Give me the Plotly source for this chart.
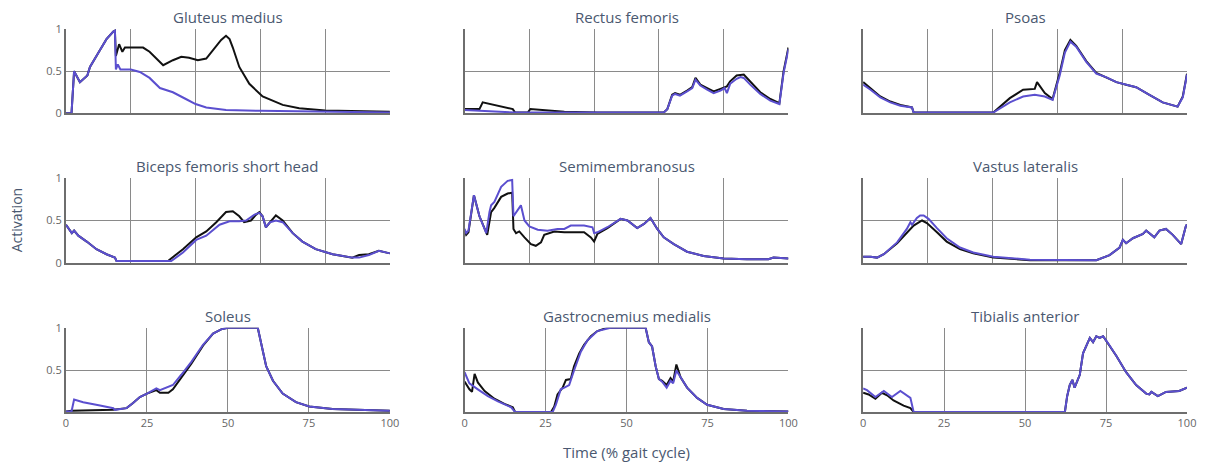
import plotly.graph_objects as go
from plotly.subplots import make_subplots

# Muscle activation over one gait cycle: reference (black) vs. predicted (purple)
muscles = [
    "Gluteus medius", "Rectus femoris", "Psoas",
    "Biceps femoris short head", "Semimembranosus", "Vastus lateralis",
    "Soleus", "Gastrocnemius medialis", "Tibialis anterior",
]

# --- Gluteus medius ---
glmed_ref_t = [0, 1.7, 2.5, 3.2, 4.3, 6.6, 7.4, 10.5, 12.5, 14.6, 15.1, 15.4, 16.4, 17.4, 18.2, 20, 23.8, 25.8,
               29, 30, 33, 35.6, 38, 40.7, 43.3, 45.3, 47.9, 49.4, 50.5, 51.5, 53.5, 56.6, 60.7, 66.9, 72, 80, 100]
glmed_ref = [0, 0, 0.5, 0.45, 0.37, 0.45, 0.55, 0.75, 0.88, 0.97, 0.98, 0.68, 0.82, 0.73, 0.78, 0.78, 0.78, 0.73,
             0.6, 0.57, 0.63, 0.67, 0.66, 0.63, 0.65, 0.75, 0.87, 0.92, 0.88, 0.78, 0.55, 0.35, 0.2, 0.1, 0.06, 0.035, 0.02]
glmed_pred_t = [0, 1.7, 2.5, 3.2, 4.3, 6.6, 7.4, 10.5, 12.5, 14.6, 15.1, 15.4, 16.0, 16.8, 20, 22.8, 25.8, 29,
                33, 37, 40, 43.3, 49.4, 60, 100]
glmed_pred = [0, 0, 0.5, 0.45, 0.37, 0.45, 0.55, 0.75, 0.88, 0.97, 0.98, 0.52, 0.58, 0.52, 0.52, 0.49, 0.42, 0.3,
              0.25, 0.17, 0.11, 0.07, 0.04, 0.03, 0.01]

# --- Rectus femoris ---
recfem_ref_t = [0, 4.6, 5.6, 14.9, 15.6, 19.5, 20.3, 30.8, 41, 61.5, 62.6, 64.1, 65, 66.5, 68.7, 70.3, 71.3, 72.8,
                74.9, 76.9, 79, 81, 82, 84, 86.2, 88.2, 91.3, 94.4, 97.2, 98.5, 100]
recfem_ref = [0.05, 0.05, 0.13, 0.05, 0.01, 0.01, 0.05, 0.02, 0.01, 0.01, 0.05, 0.22, 0.24, 0.22, 0.27, 0.31, 0.42, 0.34,
              0.3, 0.26, 0.29, 0.32, 0.38, 0.45, 0.46, 0.38, 0.25, 0.17, 0.12, 0.5, 0.78]
recfem_pred_t = [0, 4.6, 15.6, 30.8, 61.5, 62.6, 64.1, 65, 66.5, 68.7, 70.3, 71.3, 72.8, 74.9, 76.9, 79, 80.3, 81,
                 82, 84, 85.2, 86.2, 88.2, 91.3, 94.4, 97.2, 98.5, 100]
recfem_pred = [0.04, 0.03, 0.01, 0.01, 0.01, 0.05, 0.21, 0.23, 0.21, 0.26, 0.3, 0.4, 0.33, 0.28, 0.24, 0.27, 0.3, 0.24,
               0.35, 0.41, 0.43, 0.42, 0.34, 0.23, 0.15, 0.11, 0.48, 0.76]

# --- Psoas ---
psoas_ref_t = [0, 2.3, 5.3, 8.4, 11.5, 15.1, 15.6, 40.2, 45.3, 49.4, 53, 53.7, 56.1, 58.5, 60.7, 62.3, 64, 65.8,
               68.9, 72, 75, 78.2, 81.2, 84.3, 88.4, 92.5, 97.1, 98.7, 100]
psoas_ref = [0.37, 0.3, 0.2, 0.14, 0.1, 0.07, 0.01, 0.01, 0.18, 0.28, 0.29, 0.37, 0.24, 0.17, 0.48, 0.75, 0.87, 0.8,
             0.62, 0.48, 0.43, 0.37, 0.34, 0.31, 0.22, 0.13, 0.08, 0.2, 0.47]
psoas_pred_t = [0, 2.3, 5.3, 8.4, 11.5, 15.1, 15.6, 40.2, 45.3, 49.4, 53, 56.1, 58.5, 60.7, 62.3, 64, 65.8,
                68.9, 72, 75, 78.2, 81.2, 84.3, 88.4, 92.5, 97.1, 98.7, 100]
psoas_pred = [0.34, 0.28, 0.19, 0.13, 0.09, 0.07, 0.01, 0.01, 0.13, 0.2, 0.22, 0.2, 0.16, 0.45, 0.72, 0.85, 0.79,
              0.61, 0.47, 0.43, 0.37, 0.34, 0.31, 0.22, 0.13, 0.08, 0.19, 0.46]

# --- Biceps femoris short head ---
bfsh_ref_t = [0, 1.2, 1.8, 2.5, 3.8, 6.4, 9.4, 12.5, 15.1, 15.6, 31.5, 36.1, 40.2, 43.3, 46.4, 49.4, 51.5, 53.5,
              55, 57.1, 58.7, 59.7, 60.7, 61.7, 63, 64.8, 66.9, 70, 73, 77.1, 82.3, 88.4, 90.5, 93.5, 96.6, 100]
bfsh_ref = [0.45, 0.38, 0.35, 0.38, 0.32, 0.25, 0.16, 0.1, 0.06, 0.02, 0.02, 0.16, 0.3, 0.37, 0.48, 0.6, 0.61, 0.55,
            0.48, 0.5, 0.57, 0.6, 0.55, 0.42, 0.48, 0.56, 0.5, 0.35, 0.25, 0.16, 0.1, 0.06, 0.09, 0.1, 0.14, 0.11]
bfsh_pred_t = [0, 1.2, 1.8, 2.5, 3.8, 6.4, 9.4, 12.5, 15.1, 15.6, 32.5, 36.1, 40.2, 43.3, 47.4, 50.5, 53.5,
               55.6, 58.2, 59.7, 60.7, 61.7, 63, 64.8, 66.9, 70, 73, 77.1, 82.3, 88.4, 90.5, 93.5, 96.6, 100]
bfsh_pred = [0.45, 0.38, 0.35, 0.38, 0.32, 0.25, 0.16, 0.1, 0.06, 0.02, 0.02, 0.12, 0.27, 0.32, 0.45, 0.49, 0.49,
             0.5, 0.57, 0.59, 0.55, 0.42, 0.48, 0.5, 0.48, 0.35, 0.25, 0.16, 0.1, 0.06, 0.06, 0.09, 0.14, 0.11]

# --- Semimembranosus ---
semim_ref_t = [0, 0.5, 1.2, 2.9, 4.6, 7, 8.2, 9.2, 11.3, 13.3, 14.7, 15.1, 15.9, 16.9, 18.5, 20.5, 22, 23.6, 24.6,
               27.7, 30.8, 36.9, 39, 40, 41, 44.1, 48.2, 50.3, 53.3, 55.4, 57.4, 59.5, 61.5, 64.6, 68.7, 73.8, 80,
               87.2, 93.8, 95.4, 100]
semim_ref = [0.38, 0.33, 0.36, 0.8, 0.55, 0.33, 0.6, 0.65, 0.78, 0.82, 0.83, 0.4, 0.35, 0.37, 0.3, 0.22, 0.2, 0.24,
             0.33, 0.37, 0.36, 0.36, 0.3, 0.25, 0.34, 0.41, 0.52, 0.5, 0.41, 0.46, 0.53, 0.4, 0.3, 0.22, 0.13, 0.08,
             0.05, 0.04, 0.04, 0.06, 0.05]
semim_pred_t = [0, 0.5, 1.2, 2.9, 4.6, 6.7, 7.7, 8.2, 9.2, 11.3, 13.3, 14.7, 15.1, 15.9, 17.4, 18.5, 20, 22.6, 25.6,
                28.7, 30.8, 32.8, 36.9, 39.5, 40, 41, 44.1, 48.2, 50.3, 53.3, 55.4, 57.4, 59.5, 61.5, 64.6, 68.7,
                73.8, 80, 87.2, 93.8, 95.4, 100]
semim_pred = [0.4, 0.35, 0.38, 0.8, 0.55, 0.35, 0.6, 0.68, 0.72, 0.9, 0.97, 0.98, 0.55, 0.6, 0.68, 0.5, 0.43, 0.39,
              0.38, 0.4, 0.4, 0.44, 0.44, 0.42, 0.35, 0.36, 0.42, 0.52, 0.5, 0.41, 0.46, 0.53, 0.4, 0.3, 0.22, 0.13,
              0.08, 0.05, 0.04, 0.04, 0.06, 0.05]

# --- Vastus lateralis ---
vaslat_ref_t = [0, 2.3, 4.3, 6.4, 10.5, 13.5, 15.6, 18.2, 19.7, 22.8, 25.8, 29.9, 34, 40.2, 51.5, 72, 76.1, 79.2,
                80.2, 81.2, 83.3, 86.4, 87.4, 88.4, 89.9, 91.5, 93.5, 95.6, 98.2, 99.7, 100]
vaslat_ref = [0.07, 0.07, 0.06, 0.1, 0.23, 0.35, 0.44, 0.5, 0.47, 0.36, 0.25, 0.16, 0.11, 0.06, 0.03, 0.03, 0.09,
              0.18, 0.27, 0.23, 0.29, 0.34, 0.38, 0.35, 0.3, 0.38, 0.4, 0.33, 0.22, 0.44, 0.45]
vaslat_pred_t = [0, 2.3, 4.3, 6.4, 10.5, 13.5, 14.6, 15.1, 16.6, 17.6, 18.7, 20.2, 22.8, 25.8, 29.9, 34, 40.2, 51.5,
                 72, 76.1, 79.2, 80.2, 81.2, 83.3, 86.4, 87.4, 88.4, 89.9, 91.5, 93.5, 95.6, 98.2, 99.7, 100]
vaslat_pred = [0.07, 0.07, 0.06, 0.1, 0.24, 0.4, 0.48, 0.45, 0.53, 0.56, 0.56, 0.52, 0.41, 0.29, 0.18, 0.12, 0.07,
               0.035, 0.03, 0.09, 0.18, 0.27, 0.23, 0.29, 0.34, 0.38, 0.35, 0.3, 0.38, 0.4, 0.33, 0.22, 0.44, 0.45]

# --- Soleus ---
soleus_ref_t = [0, 1.7, 14.6, 18.7, 20.7, 22.8, 25, 27.9, 29, 31.6, 33, 35.6, 38.7, 42.3, 45.4, 47.9, 50, 59.2,
                60.3, 61.8, 63.9, 66.9, 71, 75.1, 82.3, 92.6, 100]
soleus_ref = [0.02, 0.03, 0.04, 0.06, 0.12, 0.19, 0.23, 0.27, 0.24, 0.24, 0.28, 0.42, 0.58, 0.79, 0.93, 0.98, 1.0,
              1.0, 0.8, 0.55, 0.38, 0.23, 0.13, 0.08, 0.05, 0.035, 0.03]
soleus_pred_t = [0, 1.7, 2.5, 5.3, 10.5, 14.6, 15.1, 18.7, 20.7, 22.8, 25, 27.9, 29, 31, 33, 35.6, 38.7, 42.3, 45.4,
                 47.9, 50, 59.2, 60.3, 61.8, 63.9, 66.9, 71, 75.1, 82.3, 92.6, 100]
soleus_pred = [0.02, 0.02, 0.16, 0.13, 0.09, 0.06, 0.04, 0.06, 0.12, 0.19, 0.23, 0.29, 0.27, 0.3, 0.33, 0.45, 0.6,
               0.8, 0.93, 0.98, 1.0, 1.0, 0.8, 0.55, 0.38, 0.23, 0.13, 0.08, 0.05, 0.035, 0.03]

# --- Gastrocnemius medialis ---
gasmed_ref_t = [0, 1.5, 2.3, 3.1, 4.1, 6.2, 9.2, 12.3, 14.9, 15.6, 26.7, 27.7, 28.7, 30.3, 31.3, 32.8, 33.8, 35.4,
                36.9, 39, 41, 44.1, 55.9, 56.9, 57.9, 59, 60, 61, 62.4, 63.6, 64.4, 65.4, 66.7, 68.7, 71.8, 74.9, 80,
                87.2, 100]
gasmed_ref = [0.37, 0.28, 0.25, 0.46, 0.36, 0.26, 0.17, 0.11, 0.07, 0.015, 0.015, 0.08, 0.22, 0.3, 0.39, 0.4, 0.55,
              0.7, 0.8, 0.9, 0.96, 1.0, 1.0, 0.83, 0.78, 0.55, 0.4, 0.38, 0.33, 0.41, 0.37, 0.57, 0.42, 0.3, 0.18,
              0.1, 0.05, 0.03, 0.02]
gasmed_pred_t = [0, 1.5, 4.1, 7.2, 10.3, 14.4, 15.6, 27.2, 28.2, 29.7, 30.8, 32.3, 33.8, 35.9, 37.9, 41, 45.1, 55.9,
                 56.9, 57.9, 59, 60, 61, 62.4, 63.6, 64.4, 65.4, 66.7, 68.7, 71.8, 74.9, 80, 87.2, 100]
gasmed_pred = [0.48, 0.35, 0.28, 0.2, 0.14, 0.07, 0.015, 0.015, 0.1, 0.28, 0.3, 0.33, 0.5, 0.72, 0.85, 0.96, 1.0,
               1.0, 0.83, 0.78, 0.55, 0.4, 0.37, 0.3, 0.38, 0.35, 0.5, 0.42, 0.3, 0.18, 0.1, 0.05, 0.03, 0.02]

# --- Tibialis anterior ---
tibant_ref_t = [0, 1.7, 3.8, 5.8, 7.4, 9.4, 12.5, 14.6, 15.6, 62.3, 63, 63.8, 64.6, 65.3, 66.9, 67.9, 70, 71, 72,
                73, 74.1, 75.6, 78.2, 81.2, 84.3, 87.4, 88.4, 89, 91, 93.5, 97.6, 100]
tibant_ref = [0.24, 0.22, 0.17, 0.24, 0.21, 0.15, 0.09, 0.06, 0.015, 0.015, 0.2, 0.33, 0.39, 0.3, 0.45, 0.7, 0.88,
              0.83, 0.9, 0.88, 0.9, 0.82, 0.67, 0.48, 0.33, 0.23, 0.22, 0.25, 0.2, 0.25, 0.26, 0.3]
tibant_pred_t = [0, 1.2, 3.8, 6.4, 8.9, 11.5, 14.6, 15.6, 62.3, 63, 63.8, 64.6, 65.3, 66.9, 67.9, 70, 71, 72,
                 73, 74.1, 75.6, 78.2, 81.2, 84.3, 87.4, 88.4, 89, 91, 93.5, 97.6, 100]
tibant_pred = [0.29, 0.27, 0.19, 0.26, 0.19, 0.26, 0.18, 0.015, 0.015, 0.2, 0.33, 0.39, 0.3, 0.45, 0.7, 0.88,
               0.83, 0.9, 0.88, 0.9, 0.82, 0.67, 0.48, 0.33, 0.23, 0.22, 0.25, 0.2, 0.25, 0.26, 0.3]

series = [
    (glmed_ref_t, glmed_ref, glmed_pred_t, glmed_pred),
    (recfem_ref_t, recfem_ref, recfem_pred_t, recfem_pred),
    (psoas_ref_t, psoas_ref, psoas_pred_t, psoas_pred),
    (bfsh_ref_t, bfsh_ref, bfsh_pred_t, bfsh_pred),
    (semim_ref_t, semim_ref, semim_pred_t, semim_pred),
    (vaslat_ref_t, vaslat_ref, vaslat_pred_t, vaslat_pred),
    (soleus_ref_t, soleus_ref, soleus_pred_t, soleus_pred),
    (gasmed_ref_t, gasmed_ref, gasmed_pred_t, gasmed_pred),
    (tibant_ref_t, tibant_ref, tibant_pred_t, tibant_pred),
]

REF_COLOR = "#111111"
PRED_COLOR = "#5b4fcf"
TEXT_COLOR = "#4a5870"
TICK_COLOR = "#666666"
FONT = "Open Sans, Noto Sans, sans-serif"

fig = make_subplots(
    rows=3, cols=3,
    subplot_titles=muscles,
    horizontal_spacing=0.0666,
    vertical_spacing=0.1697,
)

for i, (rt, rv, pt, pv) in enumerate(series):
    r, c = i // 3 + 1, i % 3 + 1
    fig.add_trace(go.Scatter(x=rt, y=rv, mode="lines", line=dict(color=REF_COLOR, width=2),
                             showlegend=False, hoverinfo="skip"), row=r, col=c)
    fig.add_trace(go.Scatter(x=pt, y=pv, mode="lines", line=dict(color=PRED_COLOR, width=2),
                             showlegend=False, hoverinfo="skip"), row=r, col=c)

    bottom = r == 3
    fig.update_xaxes(
        range=[0, 100], tick0=0, dtick=25 if bottom else 20,
        showticklabels=bottom, ticks="", showgrid=True, gridcolor="#8a8a8a", gridwidth=1,
        showline=True, linecolor="#6e6e6e", linewidth=2, zeroline=False,
        tickfont=dict(size=11, color=TICK_COLOR, family=FONT),
        row=r, col=c,
    )
    fig.update_yaxes(
        range=[0.015, 1] if bottom else [0, 1], tick0=0, dtick=0.5,
        showticklabels=(c == 1), ticks="", showgrid=True, gridcolor="#8a8a8a", gridwidth=1,
        showline=True, linecolor="#6e6e6e", linewidth=2, zeroline=False,
        tickfont=dict(size=11, color=TICK_COLOR, family=FONT),
        row=r, col=c,
    )

for ann in fig.layout.annotations:
    ann.font = dict(size=15, color=TEXT_COLOR, family=FONT)

fig.add_annotation(text="Time (% gait cycle)", xref="paper", yref="paper", x=0.5, y=-0.1044,
                   xanchor="center", yanchor="middle", showarrow=False,
                   font=dict(size=15, color=TEXT_COLOR, family=FONT))
fig.add_annotation(text="Activation", xref="paper", yref="paper", x=-0.0445, y=0.501,
                   xanchor="center", yanchor="middle", textangle=-90, showarrow=False,
                   font=dict(size=14, color=TEXT_COLOR, family=FONT))

fig.update_layout(
    width=1208, height=465,
    margin=dict(l=66, r=16, t=29, b=53),
    paper_bgcolor="white", plot_bgcolor="white",
    font=dict(family=FONT),
    showlegend=False,
)

fig.write_html("out.html")
